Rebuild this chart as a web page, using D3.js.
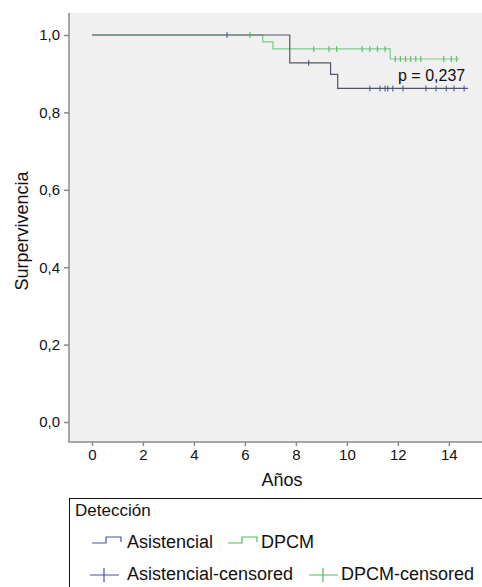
<!DOCTYPE html>
<html>
<head>
<meta charset="utf-8">
<script src="https://cdn.jsdelivr.net/npm/d3@7"></script>
<style>
  body { margin: 0; background: #fff; }
  text { font-family: "Liberation Sans", Arial, sans-serif; fill: #111; }
</style>
</head>
<body>
<div id="chart"></div>
<script>
// Kaplan-Meier steps
const asistTimes = [0, 7.76, 9.36, 9.64];
const asistSurv = [1, 0.928, 0.898, 0.862];
const asistEnd = 14.75;
const asistCensTimes = [5.3, 8.5, 10.9, 11.3, 11.5, 11.6, 11.8, 12.2, 13.1, 13.5, 13.9, 14.2, 14.6];

const dpcmTimes = [0, 6.7, 7.1, 11.7];
const dpcmSurv = [1, 0.982, 0.964, 0.938];
const dpcmEnd = 14.4;
const dpcmCensTimes = [6.2, 8.7, 9.3, 9.6, 10.6, 10.9, 11.2, 11.5, 11.9, 12.1, 12.3, 12.5, 12.7, 12.9, 13.8, 14.1, 14.3];

const xTicks = [0, 2, 4, 6, 8, 10, 12, 14];
const yTicks = [0, 0.2, 0.4, 0.6, 0.8, 1.0];
const legendTitle = 'Detección';
const legendItems = ['Asistencial', 'DPCM', 'Asistencial-censored', 'DPCM-censored'];
const pText = 'p = 0,237';

const width = 482, height = 587;
const blue = '#4a5596', green = '#4cbb5c';
const font = '"Liberation Sans", Arial, sans-serif';

const svg = d3.select('#chart').append('svg')
    .attr('width', width)
    .attr('height', height);

const x = d3.scaleLinear().domain([-0.9, 15.3]).range([69, 482]);
const y = d3.scaleLinear().domain([0, 1]).range([422, 35]);

// plot background
svg.append('rect')
    .attr('x', 69).attr('y', 13)
    .attr('width', width - 69).attr('height', 442 - 13)
    .attr('fill', '#f0f0f0');

// step helpers
function stepPoints(times, surv, end) {
    const pts = times.map((t, i) => [t, surv[i]]);
    pts.push([end, surv[surv.length - 1]]);
    return pts;
}
function survAt(times, surv, t) {
    let s = surv[0];
    times.forEach((tt, i) => { if (t >= tt) s = surv[i]; });
    return s;
}

const line = d3.line()
    .x(d => x(d[0]))
    .y(d => y(d[1]))
    .curve(d3.curveStepAfter);

svg.append('path')
    .datum(stepPoints(dpcmTimes, dpcmSurv, dpcmEnd))
    .attr('fill', 'none')
    .attr('stroke', '#7cc98a')
    .attr('stroke-width', 1.2)
    .attr('d', line);

svg.append('path')
    .datum(stepPoints(asistTimes, asistSurv, asistEnd))
    .attr('fill', 'none')
    .attr('stroke', '#50546a')
    .attr('stroke-width', 1.2)
    .attr('d', line);

// censored marks
function censMarks(times, surv, cens, color) {
    svg.append('g').selectAll('line')
        .data(cens)
        .enter()
        .append('line')
        .attr('x1', d => x(d)).attr('x2', d => x(d))
        .attr('y1', d => y(survAt(times, surv, d)) - 3)
        .attr('y2', d => y(survAt(times, surv, d)) + 3)
        .attr('stroke', color)
        .attr('stroke-width', 1.3)
        .attr('opacity', 0.8);
}
censMarks(dpcmTimes, dpcmSurv, dpcmCensTimes, green);
censMarks(asistTimes, asistSurv, asistCensTimes, blue);

// p value
svg.append('text')
    .attr('x', 398).attr('y', 81)
    .attr('font-size', 16)
    .text(pText);

// frame
svg.append('path')
    .attr('d', `M69,13V442H${width}`)
    .attr('fill', 'none')
    .attr('stroke', '#8a8a8a')
    .attr('stroke-width', 1.5);

// axes
const xAxis = d3.axisBottom(x).tickValues(xTicks).tickSize(4).tickPadding(3);
const gx = svg.append('g').attr('transform', 'translate(0,442)').call(xAxis);
gx.select('.domain').remove();
gx.selectAll('line').attr('stroke', '#8a8a8a').attr('stroke-width', 1.5);
gx.selectAll('text').attr('font-size', 15).attr('font-family', font).attr('fill', '#111');

const yAxis = d3.axisLeft(y).tickValues(yTicks).tickSize(5).tickPadding(4)
    .tickFormat(d => d3.format('.1f')(d).replace('.', ','));
const gy = svg.append('g').attr('transform', 'translate(69,0)').call(yAxis);
gy.select('.domain').remove();
gy.selectAll('line').attr('stroke', '#8a8a8a').attr('stroke-width', 1.5);
gy.selectAll('text').attr('font-size', 15).attr('font-family', font).attr('fill', '#111');

// axis titles
svg.append('text')
    .attr('x', 282).attr('y', 486)
    .attr('text-anchor', 'middle')
    .attr('font-size', 18)
    .text('Años');

svg.append('text')
    .attr('transform', 'translate(28,231) rotate(-90)')
    .attr('text-anchor', 'middle')
    .attr('font-size', 18)
    .text('Surpervivencia');

// legend
const lg = svg.append('g');
lg.append('rect')
    .attr('x', 69.5).attr('y', 498.5)
    .attr('width', 500).attr('height', 200)
    .attr('fill', 'none')
    .attr('stroke', '#111')
    .attr('stroke-width', 1);

lg.append('text').attr('x', 75).attr('y', 516).attr('font-size', 17).text(legendTitle);

function stepSymbol(x0, color) {
    lg.append('path')
        .attr('d', `M${x0},543H${x0 + 14}V537H${x0 + 29}V542`)
        .attr('fill', 'none')
        .attr('stroke', color)
        .attr('stroke-width', 1.2);
}
function crossSymbol(x0, color) {
    lg.append('path')
        .attr('d', `M${x0},575H${x0 + 29}M${x0 + 14},568V582`)
        .attr('fill', 'none')
        .attr('stroke', color)
        .attr('stroke-width', 1.2);
}
stepSymbol(92, blue);
stepSymbol(228, green);
crossSymbol(90, blue);
crossSymbol(309, green);

lg.append('text').attr('x', 127).attr('y', 548).attr('font-size', 18).text(legendItems[0]);
lg.append('text').attr('x', 261).attr('y', 548).attr('font-size', 18).text(legendItems[1]);
lg.append('text').attr('x', 127).attr('y', 580).attr('font-size', 18).text(legendItems[2]);
lg.append('text').attr('x', 341).attr('y', 580).attr('font-size', 18).text(legendItems[3]);
</script>
</body>
</html>
